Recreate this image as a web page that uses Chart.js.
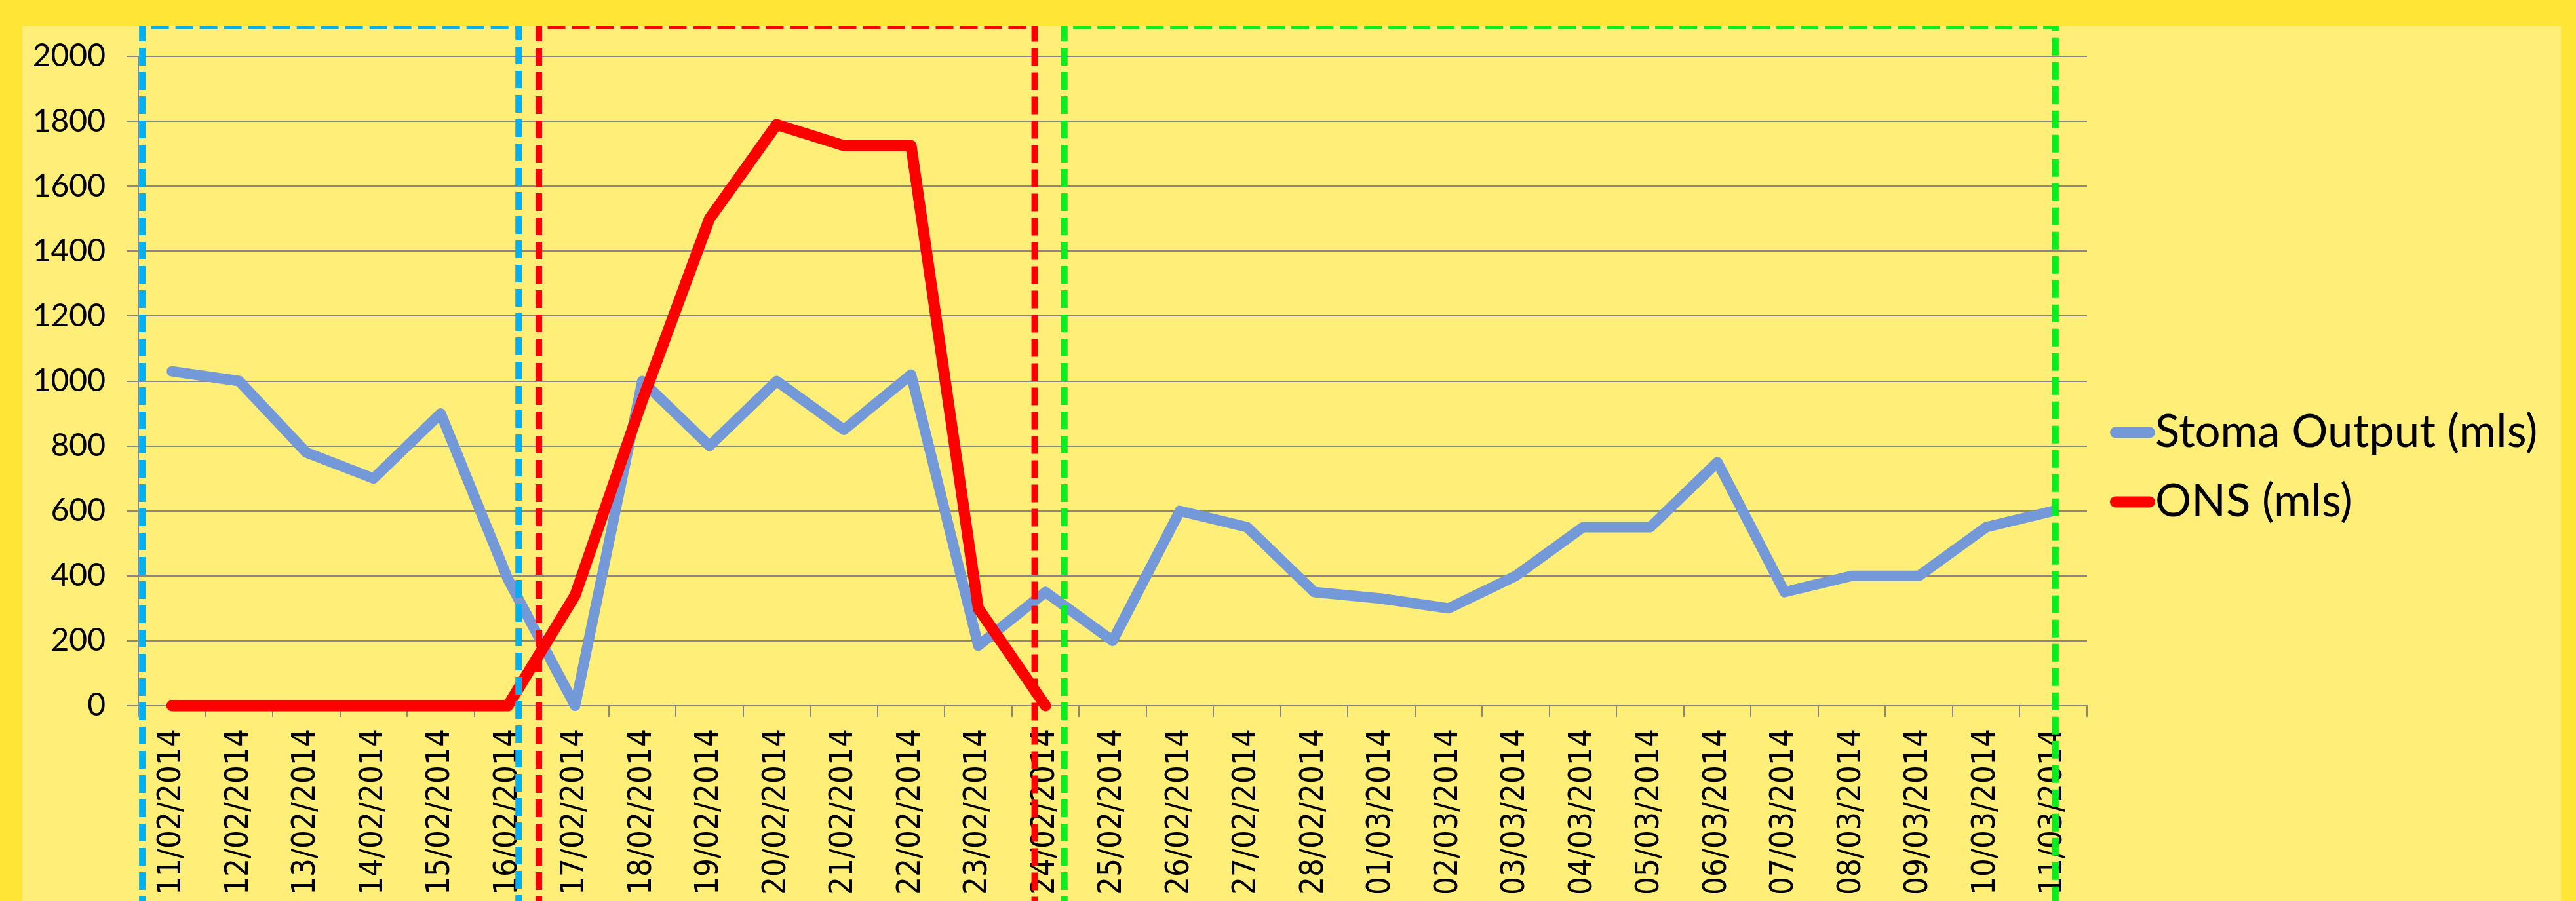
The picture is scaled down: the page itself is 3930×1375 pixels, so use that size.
<!DOCTYPE html>
<html>
<head>
<meta charset="utf-8">
<script src="https://cdn.jsdelivr.net/npm/chart.js@4.4.0/dist/chart.umd.min.js"></script>
<style>
  html, body { margin: 0; padding: 0; background: #FFE536; }
  canvas { display: block; }
</style>
</head>
<body>
<canvas id="c" width="3930" height="1375"></canvas>
<script>
// ---- data ----
const categories = [
  '11/02/2014','12/02/2014','13/02/2014','14/02/2014','15/02/2014','16/02/2014',
  '17/02/2014','18/02/2014','19/02/2014','20/02/2014','21/02/2014','22/02/2014',
  '23/02/2014','24/02/2014','25/02/2014','26/02/2014','27/02/2014','28/02/2014',
  '01/03/2014','02/03/2014','03/03/2014','04/03/2014','05/03/2014','06/03/2014',
  '07/03/2014','08/03/2014','09/03/2014','10/03/2014','11/03/2014'
];
const stomaOutput = [1030, 1000, 780, 700, 900, 390, 0, 1000, 800, 1000, 850, 1020, 185, 350, 200,
  600, 550, 350, 330, 300, 400, 550, 550, 750, 350, 400, 400, 550, 600];
const onsIntake = [0, 0, 0, 0, 0, 0, 340, 940, 1500, 1790, 1725, 1725, 300, 0,
  null, null, null, null, null, null, null, null, null, null, null, null, null, null, null];
const yTickValues = [0, 200, 400, 600, 800, 1000, 1200, 1400, 1600, 1800, 2000];
const seriesNames = ['Stoma Output (mls)', 'ONS (mls)'];
// dashed phase boxes, in category-index units (start / end)
const phaseStart = [-0.44, 5.46, 13.28];
const phaseEnd   = [5.16, 12.84, 28.03];

// ---- styles ----
const OUTER = '#FFE536', INNER = '#FFEE77';
const GRID = '#878787';
const BLUE = '#7499D8', RED = '#FF0000';
const PHASE_COLORS = ['#00B0F0', '#FF0000', '#00F020'];

const W = 3930, H = 1375;
const FRAME = { left: 34, top: 40, right: 3907 };

const bgPlugin = {
  id: 'bg',
  beforeDraw(chart) {
    const ctx = chart.ctx;
    ctx.save();
    ctx.fillStyle = OUTER;
    ctx.fillRect(0, 0, W, H);
    ctx.fillStyle = INNER;
    ctx.fillRect(FRAME.left, FRAME.top, FRAME.right - FRAME.left, H - FRAME.top);
    ctx.restore();
  }
};

const phasePlugin = {
  id: 'phases',
  afterDraw(chart) {
    const ctx = chart.ctx;
    const xs = chart.scales.x;
    ctx.save();
    ctx.beginPath();
    ctx.rect(FRAME.left, FRAME.top, FRAME.right - FRAME.left, H - FRAME.top);
    ctx.clip();
    ctx.lineWidth = 10;
    ctx.setLineDash([27, 10]);
    ctx.lineCap = 'butt';
    const top = 39.5;
    for (let i = 0; i < phaseStart.length; i++) {
      const x1 = xs.getPixelForValue(phaseStart[i]);
      const x2 = xs.getPixelForValue(phaseEnd[i]);
      ctx.strokeStyle = PHASE_COLORS[i];
      ctx.beginPath();
      ctx.moveTo(x1, H + 20);
      ctx.lineTo(x1, top);
      ctx.lineTo(x2, top);
      ctx.lineTo(x2, H + 20);
      ctx.stroke();
    }
    ctx.restore();
  }
};

const legendPlugin = {
  id: 'customLegend',
  afterDraw(chart) {
    const ctx = chart.ctx;
    const ds = chart.data.datasets;
    const x0 = chart.chartArea.right + 35;
    const swatchW = 69, thick = 17;
    const rowsY = [660, 766];
    ctx.save();
    ctx.font = "69px Lato, 'Liberation Sans', sans-serif";
    ctx.textBaseline = 'alphabetic';
    ctx.textAlign = 'left';
    ds.forEach((d, i) => {
      const y = rowsY[i];
      ctx.strokeStyle = d.borderColor;
      ctx.lineWidth = thick;
      ctx.lineCap = 'round';
      ctx.beginPath();
      ctx.moveTo(x0 + thick / 2, y);
      ctx.lineTo(x0 + swatchW - thick / 2, y);
      ctx.stroke();
      ctx.fillStyle = '#000';
      ctx.fillText(d.label, x0 + swatchW, y + 22);
    });
    ctx.restore();
  }
};

new Chart(document.getElementById('c'), {
  type: 'line',
  data: {
    labels: categories,
    datasets: [
      {
        label: seriesNames[0],
        data: stomaOutput,
        borderColor: BLUE,
        backgroundColor: BLUE,
        borderWidth: 16,
        pointRadius: 0,
        borderJoinStyle: 'round',
        borderCapStyle: 'round',
        tension: 0,
        clip: false,
        order: 1
      },
      {
        label: seriesNames[1],
        data: onsIntake,
        borderColor: RED,
        backgroundColor: RED,
        borderWidth: 17,
        pointRadius: 0,
        borderJoinStyle: 'round',
        borderCapStyle: 'round',
        tension: 0,
        spanGaps: false,
        clip: false,
        order: 0
      }
    ]
  },
  options: {
    responsive: false,
    devicePixelRatio: 1,
    animation: false,
    events: [],
    layout: { padding: { left: 0, top: 86, right: 746, bottom: 0 } },
    plugins: {
      legend: { display: false },
      tooltip: { enabled: false },
      title: { display: false }
    },
    scales: {
      x: {
        type: 'category',
        offset: true,
        grid: {
          display: true,
          offset: true,
          drawOnChartArea: false,
          drawTicks: true,
          tickLength: 17,
          color: GRID,
          lineWidth: 2
        },
        border: { display: true, color: GRID, width: 2 },
        ticks: {
          autoSkip: false,
          minRotation: 90,
          maxRotation: 90,
          padding: 18,
          color: '#000',
          font: { family: "'DejaVu Sans Condensed', 'DejaVu Sans', sans-serif", size: 49 }
        },
        afterFit(scale) { scale.height = 298; }
      },
      y: {
        min: 0,
        max: 2000,
        afterBuildTicks(scale) { scale.ticks = yTickValues.map(v => ({ value: v })); },
        grid: {
          color: GRID,
          lineWidth: 2,
          drawTicks: true,
          tickLength: 18
        },
        border: { display: true, color: GRID, width: 2 },
        ticks: {
          padding: 32,
          color: '#000',
          font: { family: "Lato, 'Liberation Sans', sans-serif", size: 48 },
          callback: (v) => String(v)
        },
        afterFit(scale) { scale.width = 211; }
      }
    }
  },
  plugins: [bgPlugin, phasePlugin, legendPlugin]
});
</script>
</body>
</html>
